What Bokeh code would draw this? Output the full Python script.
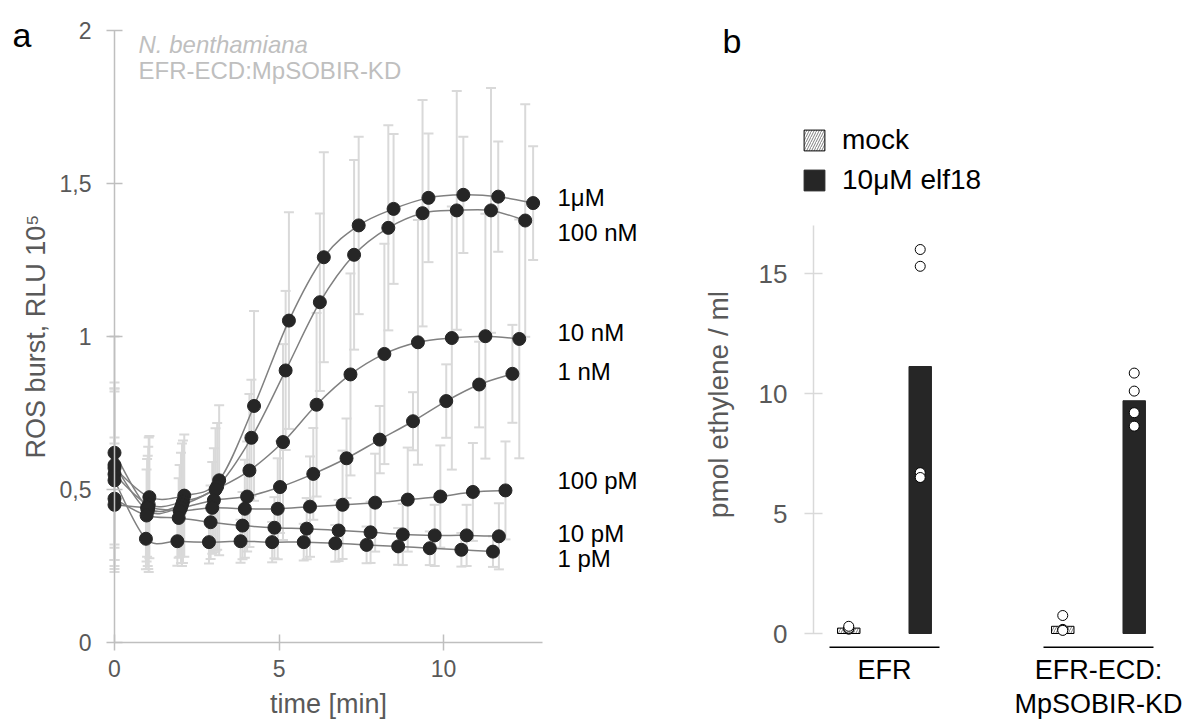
import numpy as np
from bokeh.plotting import figure
from bokeh.layouts import row
from bokeh.models import (ColumnDataSource, Range1d, FixedTicker, Whisker, TeeHead,
                          Label, Legend, LegendItem)
from bokeh.core.properties import value
from bokeh.embed import file_html
from bokeh.resources import INLINE

FONT = "Liberation Sans"
GREY_TXT = "#595959"
AXIS_A = "#bfbfbf"
ERR = "#d9d9d9"
DARK = "#262626"

# ---------------- panel a: ROS burst (RLU x 10^5) ----------------
series_names = ["1μM", "100 nM", "10 nM", "1 nM", "100 pM", "10 pM", "1 pM"]

t_1uM = [0, 1.06, 2.12, 3.18, 4.24, 5.30, 6.36, 7.42, 8.48, 9.54, 10.60, 11.66, 12.72]
ros_1uM = [0.57, 0.475, 0.48, 0.53, 0.773, 1.052, 1.259, 1.363, 1.417, 1.453, 1.463, 1.457, 1.436]
sd_1uM = [0.25, 0.20, 0.20, 0.245, 0.31, 0.354, 0.343, 0.29, 0.245, 0.21, 0.19, 0.18, 0.186]

t_100nM = [0, 1.04, 2.08, 3.12, 4.16, 5.20, 6.24, 7.28, 8.32, 9.36, 10.40, 11.44, 12.48]
ros_100nM = [0.55, 0.45, 0.46, 0.51, 0.669, 0.889, 1.112, 1.267, 1.355, 1.403, 1.412, 1.412, 1.379]
sd_100nM = [0.28, 0.22, 0.20, 0.207, 0.19, 0.26, 0.29, 0.31, 0.335, 0.37, 0.39, 0.40, 0.38]

t_10nM = [0, 1.025, 2.05, 3.07, 4.10, 5.12, 6.14, 7.17, 8.20, 9.22, 10.25, 11.27, 12.30]
ros_10nM = [0.62, 0.44, 0.45, 0.50, 0.562, 0.655, 0.777, 0.876, 0.943, 0.981, 0.995, 1.001, 0.992]
sd_10nM = [0.38, 0.20, 0.20, 0.20, 0.25, 0.32, 0.30, 0.33, 0.36, 0.40, 0.43, 0.40, 0.39]

t_1nM = [0, 1.01, 2.02, 3.02, 4.03, 5.03, 6.04, 7.05, 8.06, 9.07, 10.08, 11.08, 12.09]
ros_1nM = [0.58, 0.43, 0.44, 0.465, 0.477, 0.508, 0.551, 0.602, 0.663, 0.723, 0.789, 0.843, 0.878]
sd_1nM = [0.27, 0.18, 0.18, 0.17, 0.18, 0.15, 0.15, 0.13, 0.11, 0.095, 0.12, 0.14, 0.16]

t_100pM = [0, 0.99, 1.98, 2.97, 3.96, 4.96, 5.94, 6.93, 7.92, 8.91, 9.90, 10.89, 11.88]
ros_100pM = [0.45, 0.44, 0.43, 0.44, 0.437, 0.437, 0.444, 0.450, 0.457, 0.467, 0.477, 0.492, 0.497]
sd_100pM = [0.20, 0.16, 0.15, 0.15, 0.16, 0.165, 0.164, 0.177, 0.16, 0.17, 0.167, 0.16, 0.16]

t_10pM = [0, 0.975, 1.95, 2.92, 3.89, 4.86, 5.84, 6.81, 7.78, 8.76, 9.73, 10.70, 11.68]
ros_10pM = [0.47, 0.415, 0.407, 0.393, 0.382, 0.375, 0.372, 0.366, 0.360, 0.353, 0.350, 0.350, 0.347]
sd_10pM = [0.20, 0.15, 0.13, 0.12, 0.11, 0.10, 0.10, 0.10, 0.10, 0.10, 0.10, 0.10, 0.108]

t_1pM = [0, 0.955, 1.91, 2.87, 3.83, 4.79, 5.75, 6.71, 7.66, 8.62, 9.58, 10.54, 11.50]
ros_1pM = [0.53, 0.339, 0.331, 0.328, 0.331, 0.328, 0.328, 0.324, 0.319, 0.314, 0.308, 0.303, 0.297]
sd_1pM = [0.30, 0.10, 0.08, 0.07, 0.07, 0.066, 0.06, 0.06, 0.06, 0.06, 0.055, 0.055, 0.05]

x_ticks = [0, 5, 10]
y_ticks = [0, 0.5, 1, 1.5, 2]
y_tick_labels = ["0", "0,5", "1", "1,5", "2"]

# ---------------- panel b: ethylene ----------------
groups = ["EFR", "EFR-ECD:\nMpSOBIR-KD"]
treatments = ["mock", "10μM elf18"]
mock_EFR = [0.18, 0.20, 0.22, 0.30]
mock_ECD = [0.75, 0.17, 0.15, 0.13]
elf_EFR = [16.0, 15.3, 6.7, 6.5]
elf_ECD = [10.85, 10.1, 9.2, 8.64]
b_ticks = [0, 5, 10, 15]


def style_axis(ax, color, lw, tin, tout, fsize, standoff):
    ax.axis_line_color = color
    ax.axis_line_width = lw
    ax.major_tick_line_color = color
    ax.major_tick_line_width = lw
    ax.major_tick_in = tin
    ax.major_tick_out = tout
    ax.minor_tick_line_color = None
    ax.major_label_text_font = FONT
    ax.major_label_text_font_size = fsize
    ax.major_label_text_color = GREY_TXT
    ax.major_label_standoff = standoff


# =============== figure a (frame = whole canvas, axes fixed at 0) ===============
pa = figure(width=700, height=720, x_range=Range1d(-3.464, 17.806),
            y_range=Range1d(-0.2549, 2.098),
            min_border_left=0, min_border_right=0, min_border_top=0, min_border_bottom=0,
            output_backend="svg", toolbar_location=None, tools="")
pa.grid.visible = False
pa.outline_line_color = None

xa = pa.xaxis[0]
xa.fixed_location = 0
xa.ticker = FixedTicker(ticks=x_ticks)
xa.bounds = (0, 13.0)
style_axis(xa, AXIS_A, 1.5, 8, 8, "23px", 10)
xa.axis_label = "time [min]"
xa.axis_label_text_font = FONT
xa.axis_label_text_font_size = "27px"
xa.axis_label_text_font_style = "normal"
xa.axis_label_text_color = GREY_TXT
xa.axis_label_standoff = 8

ya = pa.yaxis[0]
ya.fixed_location = 0
ya.ticker = FixedTicker(ticks=y_ticks)
ya.bounds = (0, 2)
ya.major_label_overrides = {k: v for k, v in zip(y_ticks, y_tick_labels)}
style_axis(ya, AXIS_A, 1.5, 8, 8, "23px", 15)
ya.axis_label = "ROS burst, RLU 10⁵"
ya.axis_label_text_font = FONT
ya.axis_label_text_font_size = "27px"
ya.axis_label_text_font_style = "normal"
ya.axis_label_text_color = GREY_TXT
ya.axis_label_standoff = 6

series = [(t_1uM, ros_1uM, sd_1uM), (t_100nM, ros_100nM, sd_100nM),
          (t_10nM, ros_10nM, sd_10nM), (t_1nM, ros_1nM, sd_1nM),
          (t_100pM, ros_100pM, sd_100pM), (t_10pM, ros_10pM, sd_10pM),
          (t_1pM, ros_1pM, sd_1pM)]


def bezier_ctrl(x, y):
    x = np.asarray(x, float)
    y = np.asarray(y, float)
    xp = np.concatenate([[x[0]], x, [x[-1]]])
    yp = np.concatenate([[y[0]], y, [y[-1]]])
    i = np.arange(len(x) - 1)
    return dict(
        x0=xp[i + 1], y0=yp[i + 1], x1=xp[i + 2], y1=yp[i + 2],
        cx0=xp[i + 1] + (xp[i + 2] - xp[i]) / 6.0,
        cy0=yp[i + 1] + (yp[i + 2] - yp[i]) / 6.0,
        cx1=xp[i + 2] - (xp[i + 3] - xp[i + 1]) / 6.0,
        cy1=yp[i + 2] - (yp[i + 3] - yp[i + 1]) / 6.0,
    )


sources = []
for t, v, s in series:
    t = np.asarray(t, float)
    v = np.asarray(v, float)
    s = np.asarray(s, float)
    src = ColumnDataSource(dict(t=t, v=v, lo=v - s, hi=v + s))
    sources.append(src)
    w = Whisker(source=src, base="t", upper="hi", lower="lo", dimension="height",
                line_color=ERR, line_width=2, level="underlay",
                upper_head=TeeHead(size=10, line_color=ERR, line_width=2),
                lower_head=TeeHead(size=10, line_color=ERR, line_width=2))
    pa.add_layout(w)

for t, v, s in series:
    pa.bezier(source=ColumnDataSource(bezier_ctrl(t, v)), x0="x0", y0="y0", x1="x1", y1="y1",
              cx0="cx0", cy0="cy0", cx1="cx1", cy1="cy1", line_color="#808080", line_width=1.5)

for src in sources:
    pa.scatter("t", "v", source=src, size=13, fill_color=DARK, line_color=DARK)

label_y = [1.454, 1.341, 1.014, 0.886, 0.529, 0.355, 0.273]
pa.text(x=[13.46] * len(series_names), y=label_y, text=series_names,
        text_font=value(FONT), text_font_size="24px", text_color="black",
        text_baseline="middle", text_align="left")

pa.add_layout(Label(x=0.73, y=1.953, text="N. benthamiana", text_font=FONT,
                    text_font_size="24px", text_font_style="italic", text_color=AXIS_A,
                    text_baseline="alphabetic"))
pa.add_layout(Label(x=0.73, y=1.869, text="EFR-ECD:MpSOBIR-KD", text_font=FONT,
                    text_font_size="24px", text_color=AXIS_A, text_baseline="alphabetic"))
pa.add_layout(Label(x=-3.1, y=1.984, text="a", text_font=FONT, text_font_size="34px",
                    text_color="black", text_baseline="alphabetic"))

# =============== figure b ===============
pb = figure(width=495, height=720, x_range=Range1d(-0.8598, 1.4533),
            y_range=Range1d(-3.625, 26.375),
            min_border_left=0, min_border_right=0, min_border_top=0, min_border_bottom=0,
            output_backend="svg", toolbar_location=None, tools="")
pb.grid.visible = False
pb.outline_line_color = None
pb.xaxis.visible = False

yb = pb.yaxis[0]
yb.fixed_location = -0.3318
yb.ticker = FixedTicker(ticks=b_ticks)
yb.bounds = (0, 17)
style_axis(yb, ERR, 1.5, 9, 9, "26px", 17)

gx = np.arange(len(groups), dtype=float)
off = 0.167
bw = 0.105
mock_sets = [mock_EFR, mock_ECD]
elf_sets = [elf_EFR, elf_ECD]

mock_src = ColumnDataSource(dict(left=gx - off - bw / 2, right=gx - off + bw / 2,
                                 top=[np.mean(m) for m in mock_sets]))
elf_src = ColumnDataSource(dict(left=gx + off - bw / 2, right=gx + off + bw / 2,
                                top=[np.mean(m) for m in elf_sets]))
r_mock = pb.quad(left="left", right="right", top="top", bottom=0, source=mock_src,
                 fill_color="white", line_color="black", line_width=1,
                 hatch_pattern="right_diagonal_line", hatch_color="#7f7f7f",
                 hatch_scale=5, hatch_weight=1)
r_elf = pb.quad(left="left", right="right", top="top", bottom=0, source=elf_src,
                fill_color=DARK, line_color=DARK)

px, py = [], []
for gi in range(len(groups)):
    for vals, sgn in ((mock_sets[gi], -1), (elf_sets[gi], 1)):
        px += [gx[gi] + sgn * off] * len(vals)
        py += list(vals)
pb.scatter(px, py, size=10, fill_color="white", line_color="black", line_width=1)

pb.segment(x0=gx - 0.257, x1=gx + 0.257, y0=[-0.57] * len(gx), y1=[-0.57] * len(gx),
           line_color="black", line_width=1.5)
pb.text(x=gx, y=[-0.90] * len(gx), text=groups, text_font=value(FONT),
        text_font_size="27px", text_color="black", text_align="center",
        text_baseline="top", text_line_height=1.12)

legend = Legend(items=[LegendItem(label=treatments[0], renderers=[r_mock]),
                       LegendItem(label=treatments[1], renderers=[r_elf])],
                location=(101, 524), orientation="vertical",
                glyph_width=26, glyph_height=26, label_height=26, spacing=8,
                label_standoff=15, padding=0, margin=0,
                label_text_font=FONT, label_text_font_size="28px",
                label_text_color="black", border_line_color=None,
                background_fill_alpha=0)
pb.add_layout(legend)

pb.add_layout(Label(x=-0.776, y=9.54, text="pmol ethylene / ml", angle=np.pi / 2,
                    text_font=FONT, text_font_size="28px", text_color=GREY_TXT,
                    text_align="center", text_baseline="middle"))
pb.add_layout(Label(x=-0.757, y=24.7, text="b", text_font=FONT, text_font_size="34px",
                    text_color="black", text_baseline="alphabetic"))

layout = row(pa, pb)
open("out.html", "w").write(file_html(layout, INLINE))
